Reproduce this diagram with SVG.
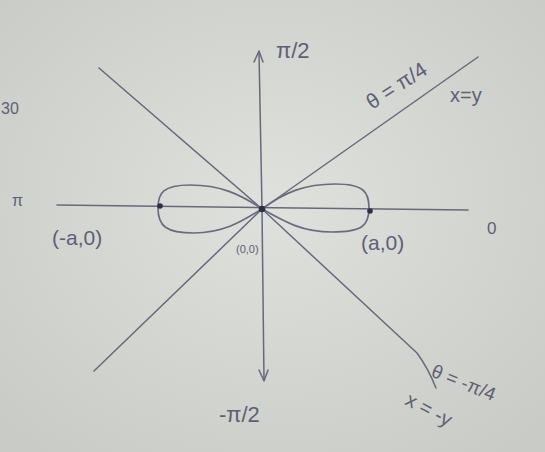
<svg xmlns="http://www.w3.org/2000/svg" width="545" height="452" viewBox="0 0 545 452">
<defs>
<radialGradient id="bg" cx="50%" cy="45%" r="70%">
<stop offset="0" stop-color="#dfe1dc"/>
<stop offset="1" stop-color="#c9ccc6"/>
</radialGradient>
<style>
.ln{fill:none;stroke:#66697c;stroke-width:1.5;stroke-linecap:round;stroke-linejoin:round}
.lobe{fill:none;stroke:#6a6c7e;stroke-width:1.7}
.dot{fill:#2e3042}
.t{font-family:"Liberation Sans","DejaVu Sans",sans-serif;fill:#5d6074}
</style>
</defs>
<rect width="545" height="452" fill="url(#bg)"/>
<g id="connectors">
<path id="x-axis" class="ln" d="M57,205 L468,210"/>
<path id="y-axis" class="ln" d="M259,52 L262,209 L264,380"/>
<path id="arrow-up" class="ln" d="M254,62 L259,51 L263,62"/>
<path id="arrow-down" class="ln" d="M259,370 L264,381 L268,370"/>
<path id="line-x-eq-y" class="ln" d="M94,371 L262,209 L478,57"/>
<path id="line-x-eq-neg-y" class="ln" d="M99,68 L262,209 L417,353 Q428,368 436,388"/>
</g>
<g id="lemniscate">
<path class="lobe" d="M262,209 C285,192 305,184 335,184 C364,184 369,192 369,208 C369,226 362,232 332,232 C302,232 285,222 262,209 Z"/>
<path class="lobe" d="M262,209 C240,194 220,185 190,185 C163,185 158,193 158,208 C158,226 166,233 194,233 C226,233 245,219 262,209 Z"/>
</g>
<g id="points">
<circle class="dot" cx="160" cy="206" r="2.8"/>
<circle class="dot" cx="262" cy="209" r="3.3"/>
<circle class="dot" cx="370" cy="211" r="2.8"/>
</g>
<g id="labels">
<text class="t" x="276" y="58" font-size="22">π/2</text>
<text class="t" x="219" y="422" font-size="22">-π/2</text>
<text class="t" x="12" y="206" font-size="16">π</text>
<text class="t" x="487" y="234" font-size="17">0</text>
<text class="t" x="1" y="114" font-size="16">30</text>
<text class="t" x="52" y="245" font-size="21">(-a,0)</text>
<text class="t" x="361" y="250" font-size="21">(a,0)</text>
<text class="t" x="236" y="253" font-size="11">(0,0)</text>
<text class="t" x="0" y="0" font-size="21" transform="translate(372,110) rotate(-33)">θ = π/4</text>
<text class="t" x="450" y="102" font-size="20">x=y</text>
<text class="t" x="0" y="0" font-size="19" transform="translate(430,376) rotate(22)">θ = -π/4</text>
<text class="t" x="0" y="0" font-size="20" transform="translate(404,404) rotate(28)">x = -y</text>
</g>
</svg>
